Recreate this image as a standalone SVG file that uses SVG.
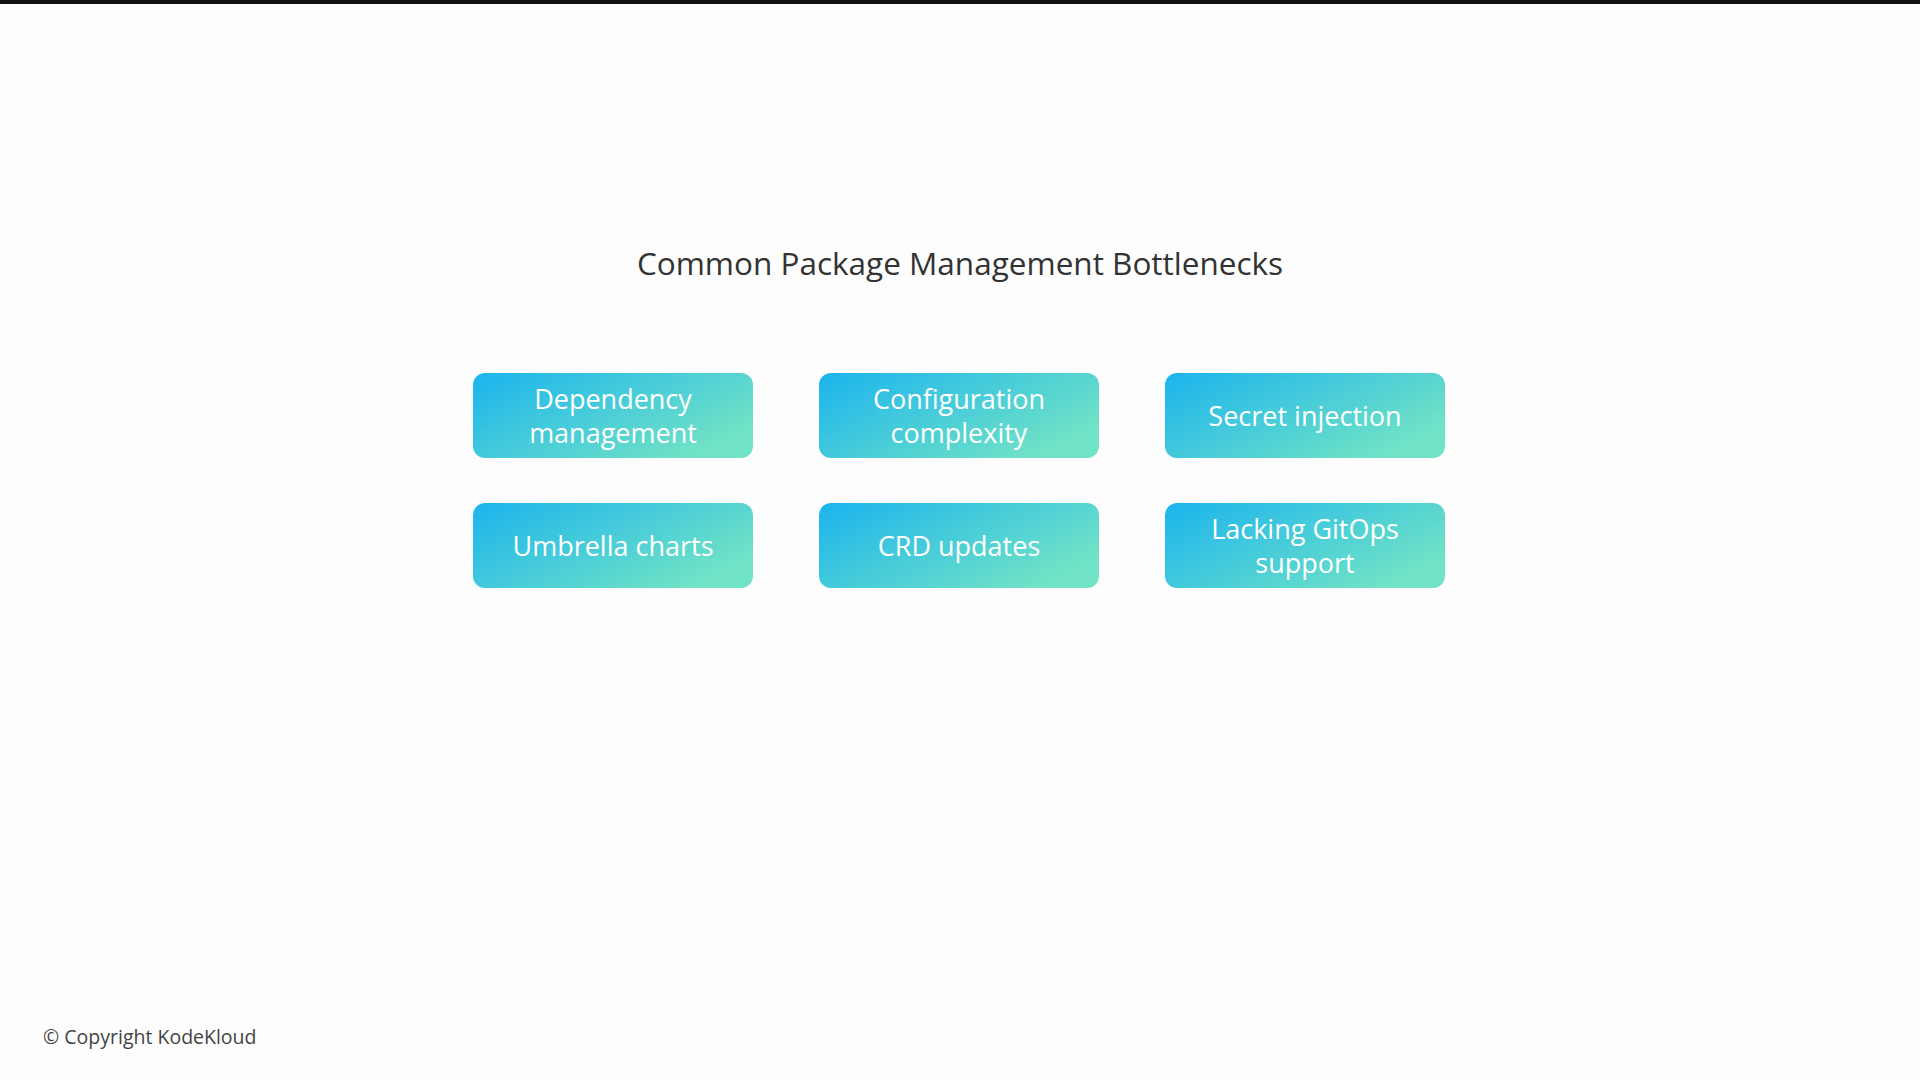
<svg xmlns="http://www.w3.org/2000/svg" width="1920" height="1080" viewBox="0 0 1920 1080">
<defs>
<linearGradient id="g" x1="0" y1="0" x2="1" y2="0.6">
<stop offset="0" stop-color="#1bb4ee"/>
<stop offset="1" stop-color="#70e2c6"/>
</linearGradient>
<style>
.box{fill:url(#g);}
.lbl{font-family:"Open Sans","Noto Sans",sans-serif;font-size:27px;fill:#ffffff;text-anchor:middle;}
.title{font-family:"Open Sans","Noto Sans",sans-serif;font-size:31.5px;fill:#333333;text-anchor:middle;}
.copy{font-family:"Open Sans","Noto Sans",sans-serif;font-size:19.5px;fill:#444444;}
</style>
</defs>
<rect x="0" y="0" width="1920" height="1080" fill="#fdfdfd"/>
<rect x="0" y="0" width="1920" height="4" fill="#111111"/>
<text class="title" x="960" y="275">Common Package Management Bottlenecks</text>
<g id="node-dependency">
<rect class="box" x="473" y="373" width="280" height="85" rx="12"/>
<text class="lbl" x="613" y="409">Dependency</text>
<text class="lbl" x="613" y="443">management</text>
</g>
<g id="node-configuration">
<rect class="box" x="819" y="373" width="280" height="85" rx="12"/>
<text class="lbl" x="959" y="409">Configuration</text>
<text class="lbl" x="959" y="443">complexity</text>
</g>
<g id="node-secret">
<rect class="box" x="1165" y="373" width="280" height="85" rx="12"/>
<text class="lbl" x="1305" y="426">Secret injection</text>
</g>
<g id="node-umbrella">
<rect class="box" x="473" y="503" width="280" height="85" rx="12"/>
<text class="lbl" x="613" y="556">Umbrella charts</text>
</g>
<g id="node-crd">
<rect class="box" x="819" y="503" width="280" height="85" rx="12"/>
<text class="lbl" x="959" y="556">CRD updates</text>
</g>
<g id="node-gitops">
<rect class="box" x="1165" y="503" width="280" height="85" rx="12"/>
<text class="lbl" x="1305" y="539">Lacking GitOps</text>
<text class="lbl" x="1305" y="573">support</text>
</g>
<g id="connectors"></g>
<text class="copy" x="43" y="1044">© Copyright KodeKloud</text>
</svg>
